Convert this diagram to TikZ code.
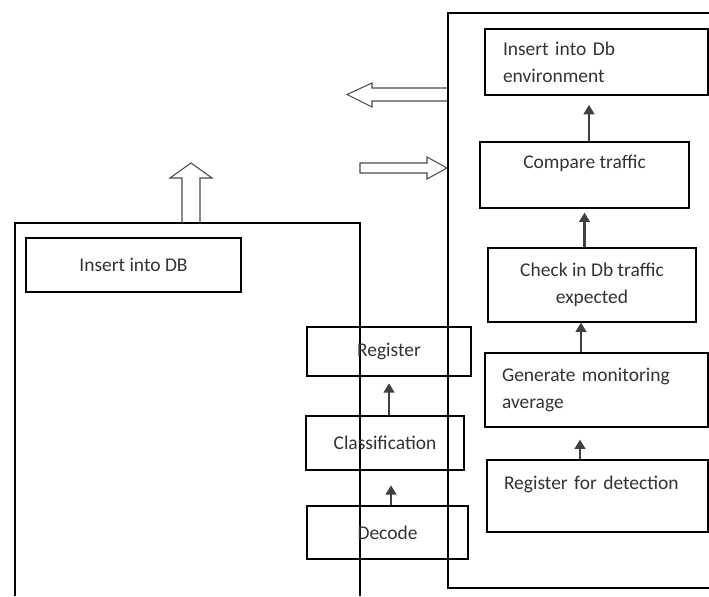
\documentclass[tikz,border=0pt]{standalone}
\usepackage{fontspec}
\setmainfont{Carlito}
\usetikzlibrary{calc,arrows.meta}

\tikzset{
  box/.style={draw, rectangle, line width=0.9pt, inner sep=0pt, text=black!80, align=center},
  flow/.style={-{Triangle[length=7pt,width=8pt]}, line width=1.6pt, draw=black!75},
  hollow/.style={draw=black!70, line width=0.8pt, line join=miter}
}

\begin{document}
\begin{tikzpicture}[x=0.75pt, y=-0.75pt, font=\fontsize{14.6}{20.3}\selectfont]
    \useasboundingbox (0,0) rectangle (709,596);
    \draw[line width=0.9pt] (15,596) -- (15,223) -- (360,223) -- (360,596);
    \draw[line width=0.9pt] (709,13) -- (448,13) -- (448,588) -- (709,588);

    \node [box, minimum width=161.25pt, minimum height=40.5pt] (ins) at (133.5,265) {Insert into DB};

    \node [box, minimum width=167.25pt, minimum height=49.5pt, text width=140.25pt, inner xsep=13.5pt, align=left] (env) at (596.5,62) {Insert into Db\\environment};
    \node [box, minimum width=156.75pt, minimum height=49.5pt] (cmp) at (584.5,175) {Compare traffic\\ \mbox{}};
    \node [box, minimum width=156pt, minimum height=55.5pt] (chk) at (592,285) {Check in Db traffic\\expected};
    \node [box, minimum width=167.25pt, minimum height=55.5pt, text width=141.75pt, inner xsep=12.75pt, align=left] (gen) at (596.5,390) {Generate monitoring\\average};
    \node [box, minimum width=165.75pt, minimum height=54pt, text width=140.25pt, inner xsep=12.75pt, align=left] (det) at (597.5,496) {Register for detection\\ \mbox{}};

    \node [box, minimum width=123pt, minimum height=36.75pt] (reg) at (389,351.5) {Register};
    \node [box, minimum width=118.5pt, minimum height=40.5pt] (cls) at (385,443) {Classification};
    \node [box, minimum width=120.75pt, minimum height=39.75pt] (dec) at (387.5,532.5) {Decode};

    \draw[flow, shorten >=7pt] ($(cmp.north)+(4.5,0)$) -- ($(cmp.north |- env.south)+(4.5,0)$);
    \draw[flow, shorten >=3pt] (cmp.south |- chk.north) -- (cmp.south);
    \draw[flow] ($(gen.north)+(-15.5,0)$) -- ($(gen.north |- chk.south)+(-15.5,0)$);
    \draw[flow, shorten >=9pt] ($(det.north)+(-17.5,0)$) -- ($(det.north |- gen.south)+(-17.5,0)$);
    \draw[flow, shorten >=5pt] (reg.south |- cls.north) -- (reg.south);
    \draw[flow, shorten >=11pt] ($(dec.north)+(3.5,0)$) -- ($(dec.north |- cls.south)+(3.5,0)$);

    \draw[hollow] (182,223) -- (182,178) -- (170,178) -- (191,163) -- (212,178) -- (200,178) -- (200,223);
    \draw[hollow] (447,88) -- (372,88) -- (372,83) -- (347,94.5) -- (372,107) -- (372,101) -- (447,101);
    \draw[hollow] (360,163) -- (427,163) -- (427,157) -- (447,168) -- (427,179) -- (427,173) -- (360,173) -- cycle;
\end{tikzpicture}
\end{document}
